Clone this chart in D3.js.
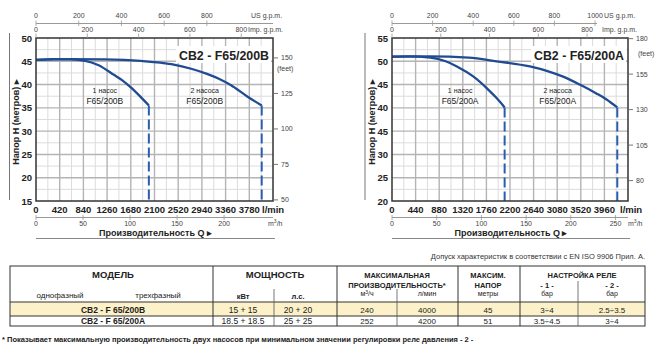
<!DOCTYPE html>
<html>
<head>
<meta charset="utf-8">
<script src="https://cdn.jsdelivr.net/npm/d3@7"></script>
<style>
  body { margin: 0; background: #fff; }
  svg { font-family: "Liberation Sans", Arial, sans-serif; }
</style>
</head>
<body>
<svg id="chart" width="655" height="354"></svg>
<script>
// ---- chart B (left) ----
const flowTicksB = [0, 420, 840, 1260, 1680, 2100, 2520, 2940, 3360, 3780];
const headTicksB = [15, 20, 25, 30, 35, 40, 45, 50];
const headLabelsB = ["15", "20", "25", "30", "35", "40", "45", "50"];
const feetTicksB = [50, 75, 100, 125, 150];
const usGpmTicksB = [0, 200, 400, 600, 800];
const impGpmTicksB = [0, 200, 400, 600, 800];
const m3hTicksB = [0, 50, 100, 150, 200];
const pump1B = [[0, 45.3], [300, 45.45], [600, 45.4], [870, 45.1], [1100, 44.2], [1380, 42.1], [1530, 40.9], [1670, 39.5], [1850, 37.4], [2000, 35.5]];
const pump2B = [[0, 45.3], [600, 45.45], [1200, 45.4], [1850, 45.1], [2200, 44.7], [2440, 44.3], [2750, 43.4], [3030, 42.3], [3250, 41.2], [3450, 39.9], [3750, 37.4], [4000, 35.5]];

// ---- chart A (right) ----
const flowTicksA = [0, 440, 880, 1320, 1760, 2200, 2640, 3080, 3520, 3960];
const headTicksA = [20, 25, 30, 35, 40, 45, 50, 55];
const headLabelsA = ["20", "25", "30", "45", "40", "45", "50", "55"];
const feetTicksA = [80, 105, 130, 155, 180];
const usGpmTicksA = [0, 200, 400, 600, 800, 1000];
const impGpmTicksA = [0, 200, 400, 600, 800];
const m3hTicksA = [0, 50, 100, 150, 200, 250];
const pump1A = [[0, 51.0], [300, 51.05], [714, 50.8], [1000, 50.0], [1210, 48.9], [1520, 46.7], [1770, 44.2], [1950, 42.1], [2100, 40.1]];
const pump2A = [[0, 51.0], [700, 51.05], [1430, 50.8], [1950, 50.0], [2570, 48.9], [2900, 47.9], [3190, 46.7], [3500, 45.0], [3810, 43.1], [4000, 41.8], [4200, 40.1]];

// ---- table ----
const models = ["CB2 - F 65/200B", "CB2 - F 65/200A"];
const powerKw = ["15 + 15", "18.5 + 18.5"];
const powerHp = ["20 + 20", "25 + 25"];
const maxM3h = ["240", "252"];
const maxLmin = ["4000", "4200"];
const maxHead = ["45", "51"];
const relay1 = ["3÷4", "3.5÷4.5"];
const relay2 = ["2.5÷3.5", "3÷4"];

const svg = d3.select("#chart");
const LPM_US = 3.78541, LPM_IMP = 4.54609, M_FT = 3.28084;
const blue = "#1f4b93";

function drawChart(cfg) {
    const g = svg.append("g");
    const x = d3.scaleLinear().domain([0, cfg.flowMax]).range([cfg.x0, cfg.x1]);
    const y = d3.scaleLinear().domain([cfg.hMin, cfg.hMax]).range([cfg.y1, cfg.y0]);
    const yFt = d3.scaleLinear().domain([cfg.hMin * M_FT, cfg.hMax * M_FT]).range([cfg.y1, cfg.y0]);
    const xUs = d3.scaleLinear().domain([0, cfg.flowMax / LPM_US]).range([cfg.x0, cfg.x1]);
    const xImp = d3.scaleLinear().domain([0, cfg.flowMax / LPM_IMP]).range([cfg.x0, cfg.x1]);
    const xM3 = d3.scaleLinear().domain([0, cfg.flowMax * 0.06]).range([cfg.x0, cfg.x1]);

    // minor grid
    const minorX = d3.range(cfg.flowStep / 2, cfg.flowMax, cfg.flowStep);
    const minorY = d3.range(cfg.hMin + 2.5, cfg.hMax, 5);
    g.selectAll(".mx").data(minorX).join("line")
        .attr("x1", d => x(d)).attr("x2", d => x(d)).attr("y1", cfg.y0).attr("y2", cfg.y1)
        .attr("stroke", "#dcdcdc").attr("stroke-width", 1);
    g.selectAll(".my").data(minorY).join("line")
        .attr("y1", d => y(d)).attr("y2", d => y(d)).attr("x1", cfg.x0).attr("x2", cfg.x1)
        .attr("stroke", "#dcdcdc").attr("stroke-width", 1);
    // major grid
    g.selectAll(".gx").data(cfg.flowTicks.slice(1)).join("line")
        .attr("x1", d => x(d)).attr("x2", d => x(d)).attr("y1", cfg.y0).attr("y2", cfg.y1)
        .attr("stroke", "#b4b4b4").attr("stroke-width", 1.4);
    g.selectAll(".gy").data(cfg.headTicks.slice(1, -1)).join("line")
        .attr("y1", d => y(d)).attr("y2", d => y(d)).attr("x1", cfg.x0).attr("x2", cfg.x1)
        .attr("stroke", "#b4b4b4").attr("stroke-width", 1.4);

    // title with white box
    g.append("rect").attr("x", cfg.titleX - 3).attr("y", 46).attr("width", cfg.titleW + 5).attr("height", 17)
        .attr("fill", "#fff");
    g.append("text").attr("x", cfg.titleX).attr("y", 59.5)
        .attr("font-size", 13.5).attr("font-weight", "bold").attr("fill", "#222")
        .attr("textLength", cfg.titleW).attr("lengthAdjust", "spacingAndGlyphs")
        .text(cfg.title);

    // curves
    const line = d3.line().x(d => x(d[0])).y(d => y(d[1])).curve(d3.curveMonotoneX);
    [cfg.pump1, cfg.pump2].forEach(p => {
        g.append("path").datum(p).attr("d", line)
            .attr("fill", "none").attr("stroke", blue).attr("stroke-width", 2.3);
        const last = p[p.length - 1];
        g.append("line")
            .attr("x1", x(last[0])).attr("x2", x(last[0]))
            .attr("y1", y(last[1])).attr("y2", cfg.y1)
            .attr("stroke", "#2a5db0").attr("stroke-width", 2)
            .attr("stroke-dasharray", "10,4");
    });

    // curve labels
    cfg.curveLabels.forEach(c => {
        g.append("text").attr("x", x(c.q)).attr("y", 92.5).attr("text-anchor", "middle")
            .attr("font-size", 7).attr("fill", "#222").text(c.top);
        g.append("text").attr("x", x(c.q)).attr("y", 104).attr("text-anchor", "middle")
            .attr("font-size", 8.5).attr("fill", "#222").text(c.name);
    });

    // plot border
    g.append("rect").attr("x", cfg.x0).attr("y", cfg.y0)
        .attr("width", cfg.x1 - cfg.x0).attr("height", cfg.y1 - cfg.y0)
        .attr("fill", "none").attr("stroke", "#333").attr("stroke-width", 1.5);

    // left head labels
    g.selectAll(".hl").data(cfg.headTicks).join("text")
        .attr("x", cfg.x0 - 4).attr("y", d => y(d) + 3.5).attr("text-anchor", "end")
        .attr("font-size", 9.5).attr("font-weight", "bold").attr("fill", "#222")
        .text((d, i) => cfg.headLabels[i]);

    // right feet axis
    g.selectAll(".ft").data(cfg.feetTicks).join("line")
        .attr("x1", cfg.x1 + 1).attr("x2", cfg.x1 + 5)
        .attr("y1", d => yFt(d)).attr("y2", d => yFt(d))
        .attr("stroke", "#555").attr("stroke-width", 0.8);
    g.selectAll(".fl").data(cfg.feetTicks).join("text")
        .attr("x", cfg.x1 + 8).attr("y", d => yFt(d) + 2.5)
        .attr("font-size", 7).attr("fill", "#444").text(d => d);
    g.append("text").attr("x", cfg.feetX).attr("y", cfg.feetY)
        .attr("font-size", 7).attr("fill", "#444").text("(feet)");

    // y title + side rule
    g.append("line").attr("x1", cfg.ruleX).attr("x2", cfg.ruleX).attr("y1", 33).attr("y2", 200)
        .attr("stroke", "#777").attr("stroke-width", 1);
    g.append("text")
        .attr("transform", `translate(${cfg.ruleX + 9.5},122) rotate(-90)`)
        .attr("text-anchor", "middle").attr("font-size", 9).attr("font-weight", "bold").attr("fill", "#222")
        .text("Напор H  (метров) ▸");

    // bottom l/min labels
    g.selectAll(".xl").data(cfg.flowTicks).join("text")
        .attr("x", d => x(d)).attr("y", 212.5).attr("text-anchor", "middle")
        .attr("font-size", 9.5).attr("font-weight", "bold").attr("fill", "#222").text(d => d);
    g.append("text").attr("x", cfg.lminX).attr("y", 212.5)
        .attr("font-size", 9.5).attr("font-weight", "bold").attr("fill", "#222").text("l/min");

    // m3/h axis
    g.append("line").attr("x1", cfg.x0).attr("x2", cfg.x1).attr("y1", 217.5).attr("y2", 217.5)
        .attr("stroke", "#999").attr("stroke-width", 1);
    g.selectAll(".mt").data(cfg.m3hTicks).join("line")
        .attr("x1", d => xM3(d)).attr("x2", d => xM3(d)).attr("y1", 215).attr("y2", 220)
        .attr("stroke", "#999").attr("stroke-width", 0.8);
    g.selectAll(".ml").data(cfg.m3hTicks).join("text")
        .attr("x", d => xM3(d)).attr("y", 226).attr("text-anchor", "middle")
        .attr("font-size", 7).attr("fill", "#444").text(d => d);
    g.append("text").attr("x", cfg.m3X).attr("y", 226)
        .attr("font-size", 7).attr("fill", "#444").html("m<tspan dy='-3' font-size='5'>3</tspan><tspan dy='3'>/h</tspan>");

    g.append("text").attr("x", (cfg.x0 + cfg.x1) / 2 + 1).attr("y", 235.5).attr("text-anchor", "middle")
        .attr("font-size", 9).attr("font-weight", "bold").attr("fill", "#222")
        .text("Производительность Q  ▸");
    g.append("line").attr("x1", cfg.x0).attr("x2", cfg.x1 + 2).attr("y1", 238.5).attr("y2", 238.5)
        .attr("stroke", "#888").attr("stroke-width", 1);

    // top US gpm axis
    g.append("line").attr("x1", cfg.x0).attr("x2", cfg.usLineEnd).attr("y1", 23.5).attr("y2", 23.5)
        .attr("stroke", "#999").attr("stroke-width", 1);
    g.selectAll(".ut").data(cfg.usTicks).join("line")
        .attr("x1", d => xUs(d)).attr("x2", d => xUs(d)).attr("y1", 20.5).attr("y2", 26)
        .attr("stroke", "#999").attr("stroke-width", 0.8);
    g.selectAll(".ul").data(cfg.usTicks).join("text")
        .attr("x", d => xUs(d)).attr("y", 18).attr("text-anchor", "middle")
        .attr("font-size", 7).attr("fill", "#444").text(d => d);
    g.append("text").attr("x", cfg.usLabelX).attr("y", 18)
        .attr("font-size", 7).attr("fill", "#444").text("US g.p.m.");

    // top Imp gpm axis
    g.selectAll(".it").data(cfg.impTicks).join("line")
        .attr("x1", d => xImp(d)).attr("x2", d => xImp(d)).attr("y1", 33.5).attr("y2", 38)
        .attr("stroke", "#999").attr("stroke-width", 0.8);
    g.selectAll(".il").data(cfg.impTicks).join("text")
        .attr("x", d => xImp(d)).attr("y", 31.5).attr("text-anchor", "middle")
        .attr("font-size", 7).attr("fill", "#444").text(d => d);
    g.append("text").attr("x", cfg.impLabelX).attr("y", 31.5)
        .attr("font-size", 7).attr("fill", "#444").text("Imp. g.p.m.");
}

drawChart({
    x0: 36, x1: 273, y0: 38, y1: 201, flowMax: 4200, flowStep: 420, hMin: 15, hMax: 50,
    flowTicks: flowTicksB, headTicks: headTicksB, headLabels: headLabelsB, feetTicks: feetTicksB,
    usTicks: usGpmTicksB, impTicks: impGpmTicksB, m3hTicks: m3hTicksB,
    pump1: pump1B, pump2: pump2B, title: "CB2 - F65/200B", titleX: 179, titleW: 90,
    curveLabels: [{ q: 1220, top: "1 насос", name: "F65/200B" }, { q: 2990, top: "2 насоса", name: "F65/200B" }],
    feetX: 277, feetY: 70.5, ruleX: 9.5, lminX: 262, m3X: 268, usLineEnd: 273, usLabelX: 251, impLabelX: 248
});

drawChart({
    x0: 392, x1: 628, y0: 38, y1: 201, flowMax: 4400, flowStep: 440, hMin: 20, hMax: 55,
    flowTicks: flowTicksA, headTicks: headTicksA, headLabels: headLabelsA, feetTicks: feetTicksA,
    usTicks: usGpmTicksA, impTicks: impGpmTicksA, m3hTicks: m3hTicksA,
    pump1: pump1A, pump2: pump2A, title: "CB2 - F65/200A", titleX: 534, titleW: 90,
    curveLabels: [{ q: 1270, top: "1 насос", name: "F65/200A" }, { q: 3090, top: "2 насоса", name: "F65/200A" }],
    feetX: 638, feetY: 55.5, ruleX: 365, lminX: 620, m3X: 628, usLineEnd: 597, usLabelX: 604, impLabelX: 602
});

// ---- table ----
const t = svg.append("g").attr("fill", "#222");
t.append("text").attr("x", 645).attr("y", 259).attr("text-anchor", "end")
    .attr("font-size", 7.5).attr("fill", "#333")
    .text("Допуск характеристик в соответствии с EN ISO 9906 Прил.  A.");

const rowY = [302, 316, 326];
t.append("rect").attr("x", 10).attr("y", rowY[0]).attr("width", 635).attr("height", rowY[1] - rowY[0])
    .attr("fill", "#fcf1c8");
t.append("rect").attr("x", 10).attr("y", 266).attr("width", 635).attr("height", 60)
    .attr("fill", "none").attr("stroke", "#333").attr("stroke-width", 1);
[302, 316].forEach(yy => t.append("line").attr("x1", 10).attr("x2", 645).attr("y1", yy).attr("y2", yy)
    .attr("stroke", "#333").attr("stroke-width", 1));
[213, 337, 458, 520].forEach(xx => t.append("line").attr("x1", xx).attr("x2", xx).attr("y1", 266).attr("y2", 326)
    .attr("stroke", "#333").attr("stroke-width", 1));
[[274, 289], [397, 289], [578, 281]].forEach(([xx, y0]) => t.append("line").attr("x1", xx).attr("x2", xx)
    .attr("y1", y0).attr("y2", 326).attr("stroke", "#555").attr("stroke-width", 0.8));

function cell(x, y, txt, size, bold) {
    t.append("text").attr("x", x).attr("y", y).attr("text-anchor", "middle")
        .attr("font-size", size).attr("font-weight", bold ? "bold" : "normal").text(txt);
}
cell(113, 277.5, "МОДЕЛЬ", 9.5, true);
cell(275, 277.5, "МОЩНОСТЬ", 9.5, true);
cell(60, 298, "однофазный", 8, false);
cell(158, 298, "трехфазный", 8, false);
cell(243, 299, "кВт", 7.5, true);
cell(298, 299, "л.с.", 7.5, true);
cell(397, 277.5, "МАКСИМАЛЬНАЯ", 7.5, true);
cell(397, 287.5, "ПРОИЗВОДИТЕЛЬНОСТЬ*", 7.5, true);
t.append("text").attr("x", 367).attr("y", 296).attr("text-anchor", "middle").attr("font-size", 7)
    .html("м<tspan dy='-2.5' font-size='5'>3</tspan><tspan dy='2.5'>/ч</tspan>");
cell(427, 296, "л/мин", 7, false);
cell(488, 277.5, "МАКСИМ.", 7.5, true);
cell(488, 287.5, "НАПОР", 7.5, true);
cell(488, 296, "метры", 7, false);
cell(582, 277.5, "НАСТРОЙКА РЕЛЕ", 7.5, true);
cell(547, 287.5, "- 1 -", 7.5, true);
cell(612, 287.5, "- 2 -", 7.5, true);
cell(547, 296, "бар", 7, false);
cell(612, 296, "бар", 7, false);

const textY = [312.5, 323.5];
models.forEach((m, i) => {
    cell(113, textY[i], m, 8.5, true);
    cell(243, textY[i], powerKw[i], 8.5, false);
    cell(298, textY[i], powerHp[i], 8.5, false);
    cell(367, textY[i], maxM3h[i], 8, false);
    cell(427, textY[i], maxLmin[i], 8, false);
    cell(488, textY[i], maxHead[i], 8, false);
    cell(547, textY[i], relay1[i], 8, false);
    cell(612, textY[i], relay2[i], 8, false);
});

t.append("text").attr("x", 2).attr("y", 342).attr("font-size", 7.5).attr("font-weight", "bold")
    .text("* Показывает максимальную производительность двух насосов при минимальном значении регулировки реле давления - 2 -");
</script>
</body>
</html>
